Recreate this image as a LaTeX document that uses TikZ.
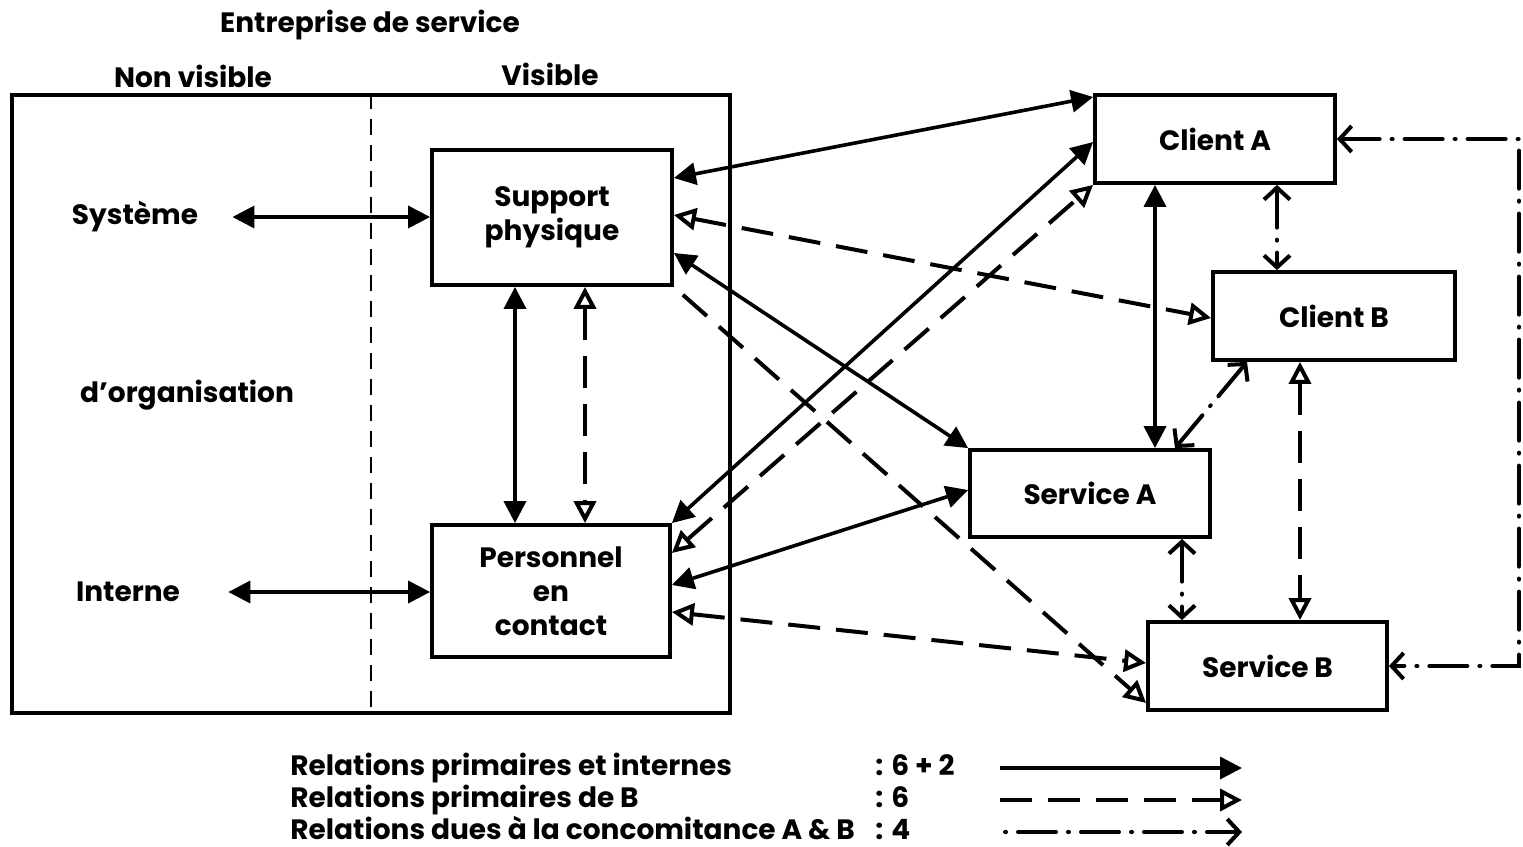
\documentclass[tikz,border=0pt]{standalone}
\usepackage{fontspec}
\setmainfont{Poppins}
\usetikzlibrary{arrows.meta}

\tikzset{
  fh/.tip={Triangle[length=11pt,width=11pt]},
  oh/.tip={Triangle[open,length=11pt,width=11pt]},
  vh/.tip={Straight Barb[length=6pt,width=13pt]},
}

\begin{document}
\begin{tikzpicture}[x=0.5pt,y=-0.5pt,
  every node/.style={font=\fontsize{14}{17}\selectfont\bfseries},
  box/.style={draw, line width=1.9pt, align=center, inner sep=0pt},
  lbl/.style={inner sep=0pt},
  legtxt/.style={inner sep=0pt, anchor=west, text height=10pt, text depth=3pt},
  primrel/.style={line width=1.8pt, fh-fh},
  brel/.style={line width=2pt, dash pattern=on 16pt off 8pt, oh-oh},
  crel/.style={line width=2pt, line cap=round, dash pattern=on 19pt off 6pt on 0.5pt off 6pt, vh-vh},
]
\useasboundingbox (0,0) rectangle (1523,847);

% titles
\node[lbl] (title) at (370,25) {Entreprise de service};
\node[lbl] (nonvis) at (193,76) {Non visible};
\node[lbl] (vis) at (550,74) {Visible};

% the service company frame and its visible / non-visible split
\node[draw, line width=1.9pt, minimum width=359pt, minimum height=309pt, inner sep=0pt] (ent) at (371,404) {};
\draw[line width=1.3pt, dash pattern=on 8pt off 5pt] (ent.north) -- (ent.south);

\node[lbl] (sys) at (135,217) {Système};
\node[lbl] (org) at (187,395) {d'organisation};
\node[lbl] (int) at (128,592) {Interne};

% elements of the system
\node[box, minimum width=120pt, minimum height=67.5pt] (sp) at (552,217.5) {Support\\physique};
\node[box, minimum width=119pt, minimum height=66pt] (pc) at (551,591) {Personnel\\en\\contact};
\node[box, minimum width=120pt, minimum height=44pt] (ca) at (1215,139) {Client A};
\node[box, minimum width=121pt, minimum height=44pt] (cb) at (1334,316) {Client B};
\node[box, minimum width=120pt, minimum height=43.5pt] (sa) at (1090,493.5) {Service A};
\node[box, minimum width=119.5pt, minimum height=44pt] (sb) at (1267.5,666) {Service B};

% primary and internal relations
\draw[primrel] ([xshift=17pt]sys.east) -- (sys.east -| sp.west);
\draw[primrel] ([xshift=24pt]int.east) -- (int.east -| pc.west);
\draw[primrel] (sp.south -| 515,0) -- (pc.north -| 515,0);
\draw[primrel] (sp.east |- 0,178) -- (ca.west |- 0,97);
\draw[primrel] (sp.east |- 0,253) -- (sa.north west);
\draw[primrel] (pc.north east) -- (ca.west |- 0,142);
\draw[primrel] (pc.east |- 0,585) -- (sa.west |- 0,490);
\draw[primrel] (ca.south -| 1155,0) -- (sa.north -| 1155,0);

% primary relations of B
\draw[brel] (sp.south -| 585,0) -- (pc.north -| 585,0);
\draw[brel] (sp.east |- 0,215) -- (cb.west |- 0,318);
\draw[brel, -oh, shorten <=6pt] (sp.south east) -- (sb.west |- 0,703);
\draw[brel] (pc.east |- 0,553) -- (ca.south west);
\draw[brel] (pc.east |- 0,612) -- (sb.west |- 0,663);
\draw[brel] (cb.south -| 1300,0) -- (sb.north -| 1300,0);

% relations due to the concomitance of A and B
\draw[crel] (ca.south -| 1277,0) -- (cb.north -| 1277,0);
\draw[crel] (sa.north -| 1175,0) -- (cb.south -| 1247,0);
\draw[crel] (sa.south -| 1182,0) -- (sb.north -| 1182,0);
\coordinate (lt) at (1519,139);
\coordinate (lb) at (1519,666);
\draw[crel] (ca.east) -- (lt) -- (lb) -- (sb.east);

% legend
\node[legtxt] (k1) at (290,768) {Relations primaires et internes};
\node[legtxt] (k2) at (290,800) {Relations primaires de B};
\node[legtxt] (k3) at (290,832) {Relations dues à la concomitance A \& B};
\node[legtxt] (n1) at (875,768) {: 6 + 2};
\node[legtxt] (n2) at (875,800) {: 6};
\node[legtxt] (n3) at (875,832) {: 4};
\coordinate (a1) at (1000,768); \coordinate (b1) at (1242,768);
\coordinate (a2) at (1000,800); \coordinate (b2) at (1242,800);
\coordinate (a3) at (1005,832); \coordinate (b3) at (1242,832);
\draw[line width=1.8pt, -fh] (a1) -- (b1);
\draw[line width=2pt, dash pattern=on 16pt off 8pt, -oh] (a2) -- (b2);
\draw[line width=2pt, line cap=round, dash pattern=on 0.5pt off 6pt on 19pt off 6pt, -vh] (a3) -- (b3);
\end{tikzpicture}
\end{document}
